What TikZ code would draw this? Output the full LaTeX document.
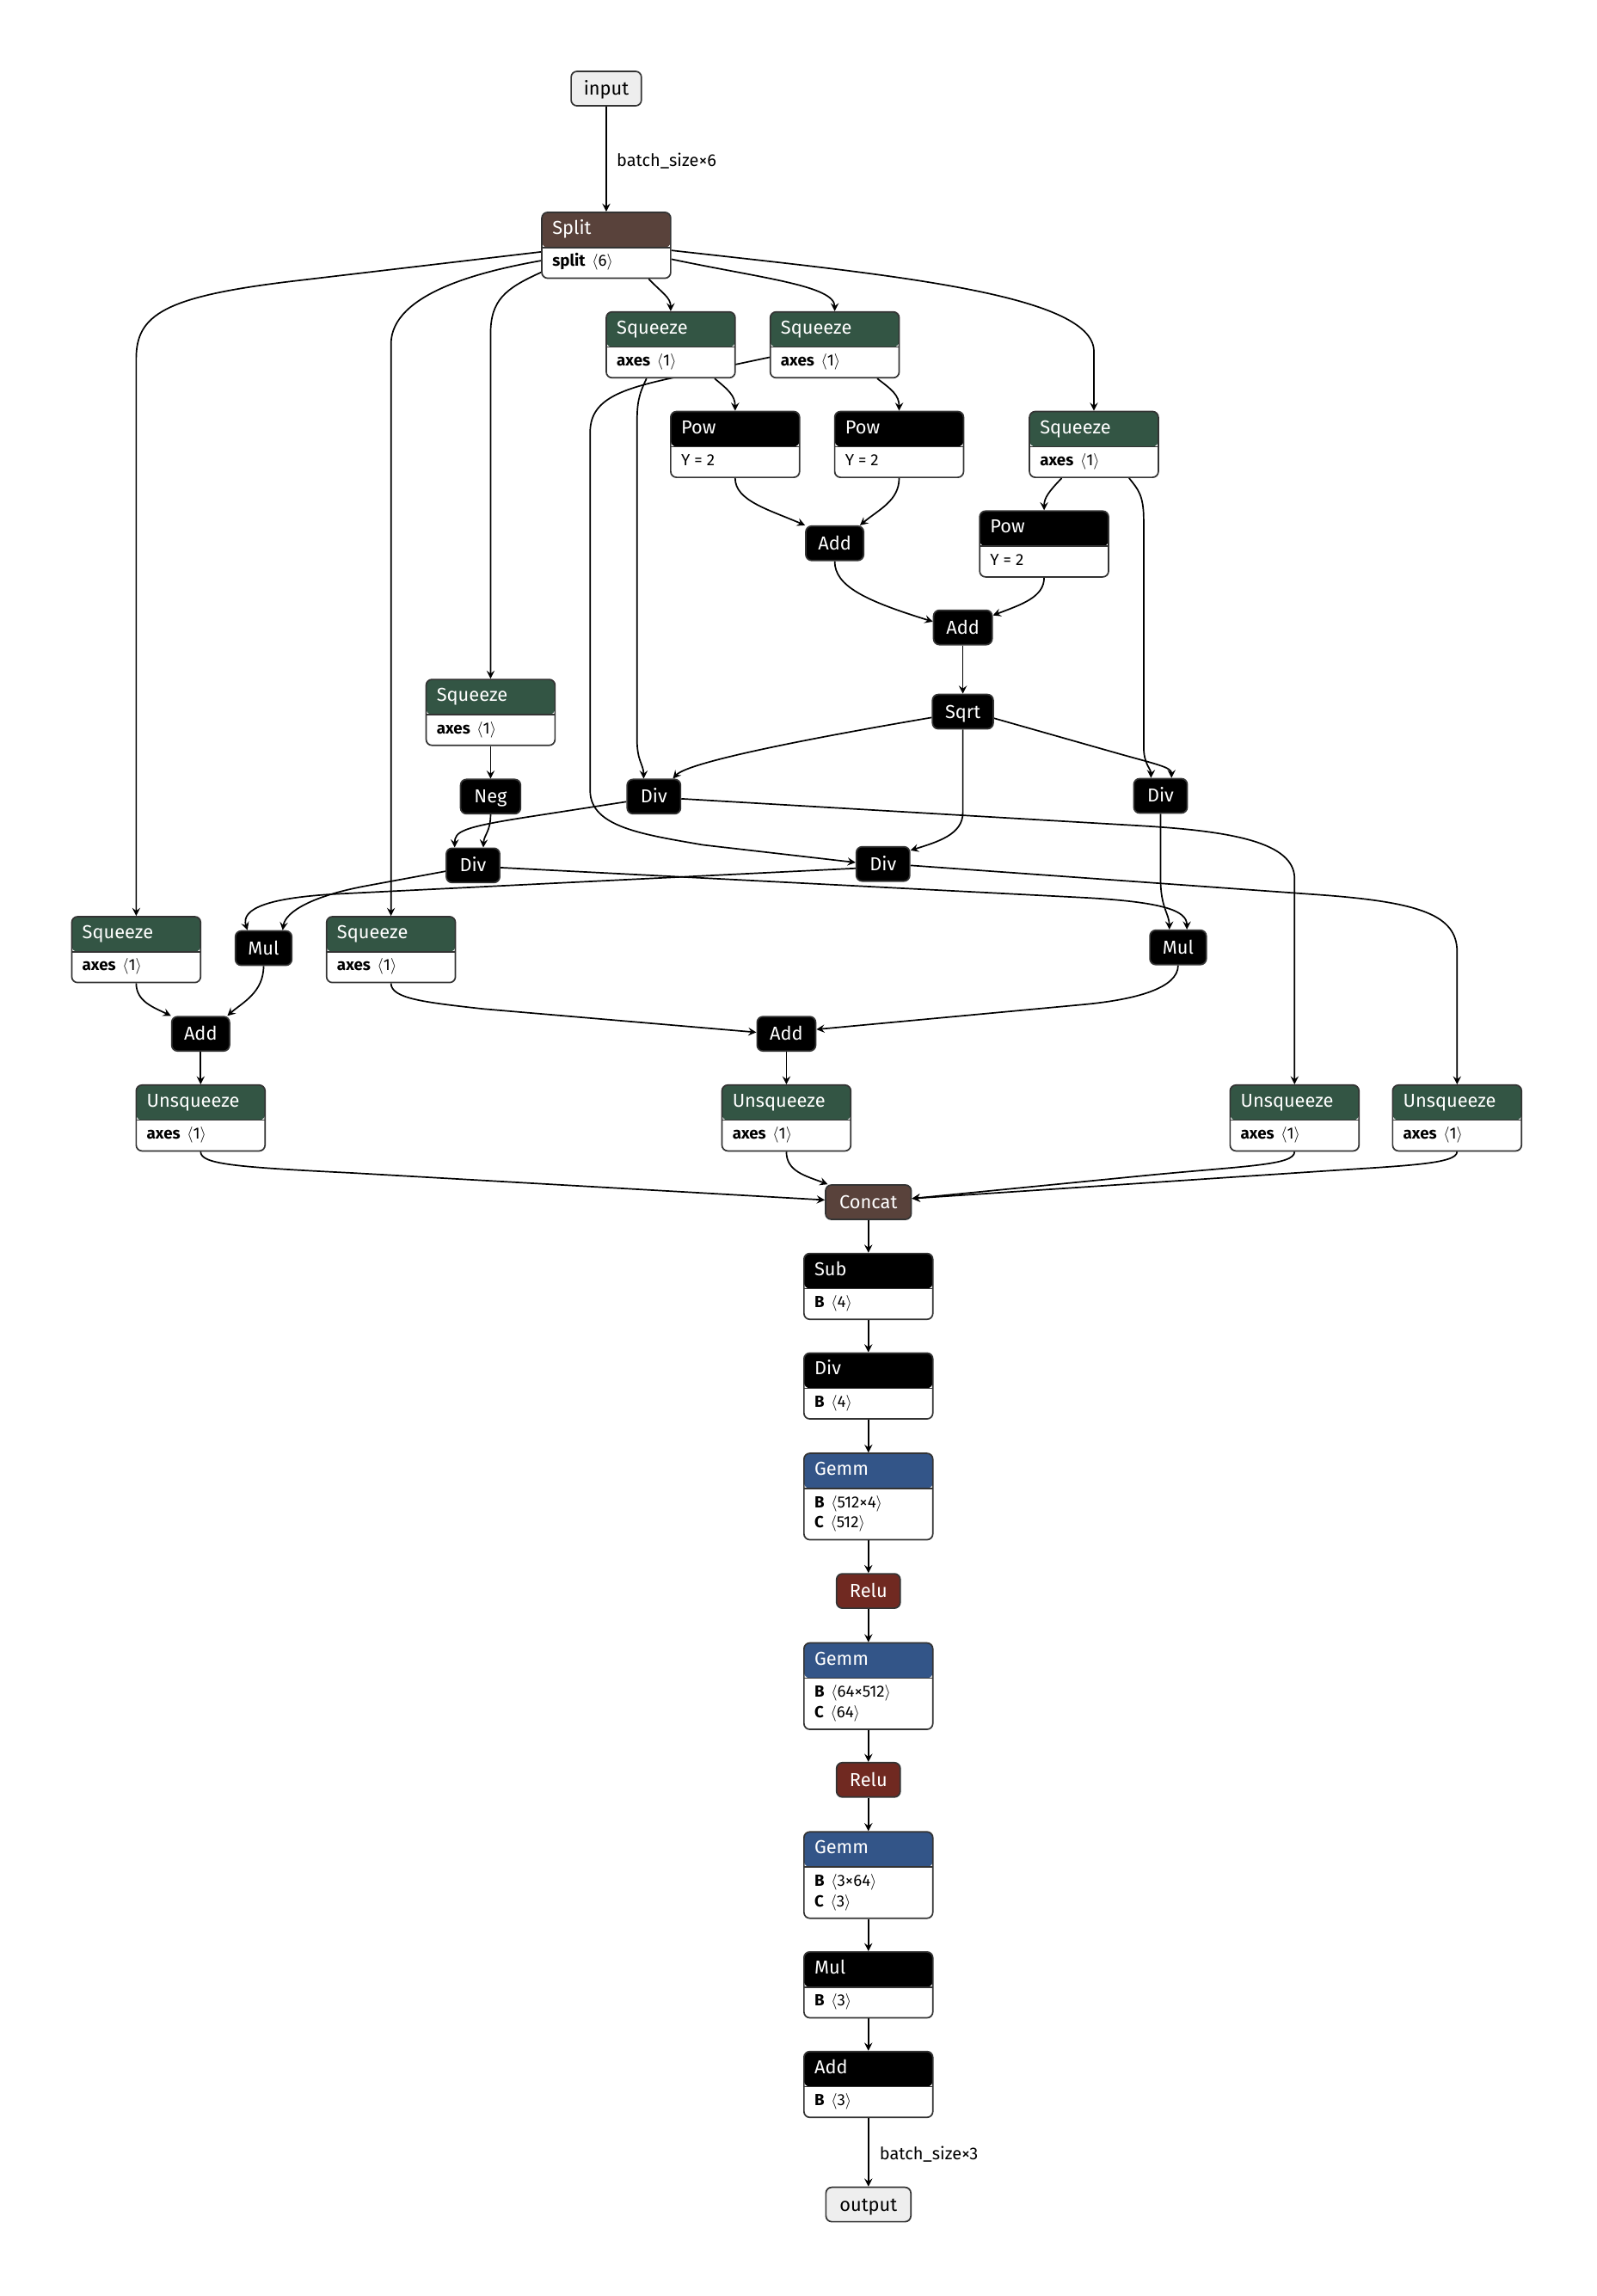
\documentclass[tikz,border=0pt]{standalone}
\usepackage{fontspec}
\setmainfont{Fira Sans}
\usetikzlibrary{arrows.meta}

\definecolor{framecol}{HTML}{333333}
\definecolor{tensorcol}{RGB}{89,66,59}
\definecolor{transformcol}{RGB}{51,85,68}
\definecolor{layercol}{RGB}{51,85,136}
\definecolor{activcol}{RGB}{112,41,33}
\definecolor{iocol}{HTML}{EEEEEE}

\pgfdeclarelayer{paper}
\pgfdeclarelayer{edges}
\pgfsetlayers{paper,edges,main}

\newcommand\hdrfont{\fontsize{12.8}{15}\selectfont}
\newcommand\atrfont{\fontsize{11}{14}\selectfont}
\newcommand\lblfont{\fontsize{11.7}{14}\selectfont}
% attribute: bold name, then the value in angle brackets
\newcommand\kv[2]{\textbf{#1}\hspace{4.5pt}$\langle$#2$\rangle$}

\tikzset{
  opframe/.style={draw=framecol, line width=1pt, rounded corners=4pt, fill=white,
                  minimum width=88pt, inner sep=0pt},
  smallop/.style={draw=framecol, line width=1pt, rounded corners=4pt, fill=black, text=white,
                  minimum height=23.5pt, inner sep=0pt, text height=8.8pt, text depth=0pt,
                  font=\hdrfont},
  ioop/.style={smallop, fill=iocol, text=black},
  hdrtext/.style={anchor=base west, inner sep=0pt, text=white, font=\hdrfont},
  atrtext/.style={anchor=base west, inner sep=0pt, text=black, font=\atrfont},
  edgelabel/.style={anchor=base west, inner sep=0pt, text=black, font=\lblfont},
  flow/.style={draw=black, line width=1pt, -{Stealth[length=5.5pt, width=5.5pt, inset=2pt]}},
}

% operator box with coloured header and one attribute line
% #1 name, #2 centre x, #3 top y, #4 height, #5 header colour, #6 title, #7 attribute
\newcommand\opnode[7]{%
  \node[opframe, minimum height=#4pt,
        path picture={
          \fill[#5] (path picture bounding box.north west) rectangle
                    ([yshift=-24pt]path picture bounding box.north east);
          \draw[framecol, line width=0.9pt]
                    ([yshift=-24pt]path picture bounding box.north west) --
                    ([yshift=-24pt]path picture bounding box.north east);}]
    (#1) at (#2,{#3+#4/2}) {};
  \node[hdrtext] (#1-t) at ([xshift=7.5pt,yshift=-15.5pt]#1.north west) {#6};
  \node[atrtext] (#1-a) at ([xshift=7.5pt,yshift=-37.5pt]#1.north west) {#7};
}
% second attribute line
\newcommand\opattr[2]{%
  \node[atrtext] (#1-b) at ([xshift=7.5pt,yshift=-51.5pt]#1.north west) {#2};
}

\begin{document}
\begin{tikzpicture}[x=1pt, y=-1pt]
\begin{pgfonlayer}{paper}
  \fill[white] (0,0) rectangle (1090,1568);
\end{pgfonlayer}
\useasboundingbox (0,0) rectangle (1090,1568);

% ---------- operators ----------
\node[ioop, minimum width=48pt] (input) at (414,60.5) {input};

\opnode{split}{414}{145}{45}{tensorcol}{Split}{\kv{split}{6}}
\opnode{sqa}{458}{213}{45}{transformcol}{Squeeze}{\kv{axes}{1}}
\opnode{sqb}{570}{213}{45}{transformcol}{Squeeze}{\kv{axes}{1}}
\opnode{pow1}{502}{281}{45}{black}{Pow}{Y = 2}
\opnode{pow2}{614}{281}{45}{black}{Pow}{Y = 2}
\opnode{sqc}{747}{281}{45}{transformcol}{Squeeze}{\kv{axes}{1}}
\opnode{pow3}{713}{349}{45}{black}{Pow}{Y = 2}
\opnode{sqd}{335}{464}{45}{transformcol}{Squeeze}{\kv{axes}{1}}
\opnode{sqe}{93}{626}{45}{transformcol}{Squeeze}{\kv{axes}{1}}
\opnode{sqf}{267}{626}{45}{transformcol}{Squeeze}{\kv{axes}{1}}
\opnode{unsq1}{137}{741}{45}{transformcol}{Unsqueeze}{\kv{axes}{1}}
\opnode{unsq2}{537}{741}{45}{transformcol}{Unsqueeze}{\kv{axes}{1}}
\opnode{unsq3}{884}{741}{45}{transformcol}{Unsqueeze}{\kv{axes}{1}}
\opnode{unsq4}{995}{741}{45}{transformcol}{Unsqueeze}{\kv{axes}{1}}
\opnode{sub}{593}{856}{45}{black}{Sub}{\kv{B}{4}}
\opnode{div5}{593}{924}{45}{black}{Div}{\kv{B}{4}}
\opnode{gemm1}{593}{992.5}{59}{layercol}{Gemm}{\kv{B}{512×4}}
\opattr{gemm1}{\kv{C}{512}}
\opnode{gemm2}{593}{1122}{59}{layercol}{Gemm}{\kv{B}{64×512}}
\opattr{gemm2}{\kv{C}{64}}
\opnode{gemm3}{593}{1251}{59}{layercol}{Gemm}{\kv{B}{3×64}}
\opattr{gemm3}{\kv{C}{3}}
\opnode{mul3}{593}{1333}{45}{black}{Mul}{\kv{B}{3}}
\opnode{add5}{593}{1401}{45}{black}{Add}{\kv{B}{3}}

\node[smallop, minimum width=39.5pt] (add1) at (570,371) {Add};
\node[smallop, minimum width=40pt] (add2) at (657.5,428.5) {Add};
\node[smallop, minimum width=41.5pt] (sqrt) at (657.5,486) {Sqrt};
\node[smallop, minimum width=41pt] (neg) at (335,544) {Neg};
\node[smallop, minimum width=36.5pt] (div1) at (446.5,544) {Div};
\node[smallop, minimum width=36.5pt] (div2) at (792.5,543.5) {Div};
\node[smallop, minimum width=36.5pt] (div3) at (323,591) {Div};
\node[smallop, minimum width=36.5pt] (div4) at (603,590) {Div};
\node[smallop, minimum width=38.5pt] (mul1) at (180,647.5) {Mul};
\node[smallop, minimum width=38.5pt] (mul2) at (804.5,647) {Mul};
\node[smallop, minimum width=39.5pt] (add3) at (137,706) {Add};
\node[smallop, minimum width=40pt] (add4) at (537,706) {Add};
\node[smallop, fill=tensorcol, minimum width=58.5pt] (concat) at (593,821) {Concat};
\node[smallop, fill=activcol, minimum width=43.5pt] (relu1) at (593,1086.5) {Relu};
\node[smallop, fill=activcol, minimum width=43.5pt] (relu2) at (593,1215.5) {Relu};
\node[ioop, minimum width=58pt] (output) at (593,1505.5) {output};

\node[edgelabel] (lblin) at (421,113.5) {batch\_size×6};
\node[edgelabel] (lblout) at (600.5,1475) {batch\_size×3};

% ---------- connectors ----------
\begin{pgfonlayer}{edges}
\draw[flow] (input.south) -- (split.north);

% Split fans out to the six squeezes
\draw[flow] ([yshift=-4.5pt]split.west) -- (200,192) .. controls (112,202.5) and (93,215) .. (93,245) -- (sqe.north);
\draw[flow] ([yshift=-10.5pt]split.west) .. controls (330,185) and (267,200) .. (267,235) -- (sqf.north);
\draw[flow] ([yshift=-18.5pt]split.west) .. controls (345,197) and (335,205) .. (335,228) -- (sqd.north);
\draw[flow] ([xshift=29pt]split.south) .. controls (452,200) and (458,203) .. (sqa.north);
\draw[flow] ([yshift=-9.5pt]split.east) .. controls (520,190) and (570,195) .. (sqb.north);
\draw[flow] ([yshift=-3.5pt]split.east) .. controls (600,187) and (747,200) .. (747,240) -- (sqc.north);

% squares and norm
\draw[flow] ([xshift=30pt]sqa.south) .. controls (497,266) and (502,270) .. (pow1.north);
\draw[flow] ([xshift=29pt]sqb.south) .. controls (609,266) and (614,270) .. (pow2.north);
\draw[flow] ([xshift=-22pt]sqc.south) .. controls (716,336) and (713,340) .. (pow3.north);
\draw[flow] (pow1.south) .. controls (502,342) and (525,348) .. (add1.north west);
\draw[flow] (pow2.south) .. controls (614,342) and (600,348) .. ([xshift=-3pt]add1.north east);
\draw[flow] (add1.south) .. controls (570,400) and (590,410) .. ([yshift=4pt]add2.west);
\draw[flow] (pow3.south) .. controls (713,408) and (697,413) .. ([yshift=-4pt]add2.north east);
\draw[flow] (add2.south) -- (sqrt.north);

% normalised components
\draw[flow] ([xshift=-16.5pt]sqa.south) .. controls (436,270) and (435,275) .. (435,290) -- (435,505) .. controls (435,520) and (439.5,522) .. ([xshift=-7pt]div1.north);
\draw[flow] ([yshift=-8.5pt]sqb.west) -- (470,255.7) .. controls (430,264.3) and (403,270) .. (403,295) -- (403,540) .. controls (403,565) and (440,570) .. (480,577) -- ([yshift=1pt]div4.west);
\draw[flow] ([xshift=24pt]sqc.south) .. controls (777,334) and (781,338) .. (781,355) -- (781,510) .. controls (781,522) and (786,525) .. ([xshift=-6.5pt]div2.north);
\draw[flow] ([yshift=-4pt]sqrt.west) .. controls (560,503) and (470,520) .. ([xshift=13pt]div1.north);
\draw[flow] ([yshift=-4.5pt]sqrt.east) -- (765,515) .. controls (790,522) and (800,524) .. ([xshift=7.5pt]div2.north);
\draw[flow] (sqrt.south) -- (657.5,555) .. controls (657.5,570) and (640,575) .. ([yshift=-3pt]div4.north east);

% negation branch
\draw[flow] (sqd.south) -- (neg.north);
\draw[flow] (neg.south) .. controls (335,568) and (330.5,570) .. ([xshift=7pt]div3.north);
\draw[flow] ([yshift=-3.5pt]div1.west) -- (360,558) .. controls (315,565) and (310.5,568) .. ([xshift=-12.5pt]div3.north);

% products
\draw[flow] ([yshift=-4pt]div3.west) -- (250,605) .. controls (215,611.5) and (195,622) .. ([xshift=13pt]mul1.north);
\draw[flow] ([yshift=-3pt]div4.west) -- (230,610.5) .. controls (185,613) and (164,620) .. ([xshift=-11pt]mul1.north);
\draw[flow] ([yshift=-1.5pt]div3.east) -- (740,613) .. controls (795,616) and (810.5,622) .. ([xshift=6pt]mul2.north);
\draw[flow] (div2.south) -- (792.5,600) .. controls (792.5,620) and (798.5,624) .. ([xshift=-6pt]mul2.north);

% sums
\draw[flow] (sqe.south) .. controls (93,684) and (105,688) .. (add3.north west);
\draw[flow] (mul1.south) .. controls (180,678) and (165,685) .. ([xshift=-2pt]add3.north east);
\draw[flow] (sqf.south) .. controls (267,682) and (290,684.5) .. (330,689) -- ([yshift=1pt]add4.west);
\draw[flow] (mul2.south) .. controls (804.5,675) and (775,682.7) .. (740,686) -- ([yshift=3pt]add4.east);

% unsqueezes
\draw[flow] (add3.south) -- (unsq1.north);
\draw[flow] (add4.south) -- (unsq2.north);
\draw[flow] ([yshift=-1.5pt]div1.east) -- (780,564) .. controls (840,567.6) and (884,575) .. (884,600) -- (unsq3.north);
\draw[flow] ([yshift=-1pt]div4.east) -- (900,611) .. controls (970,616) and (995,625) .. (995,650) -- (unsq4.north);

% concat
\draw[flow] (unsq1.south) .. controls (137,795) and (160,797) .. (240,801) -- ([yshift=1.5pt]concat.west);
\draw[flow] (unsq2.south) .. controls (537,800) and (550,803) .. ([xshift=2pt]concat.north west);
\draw[flow] (unsq3.south) .. controls (884,796) and (850,796.1) .. (780,803) -- ([yshift=2.5pt]concat.east);
\draw[flow] (unsq4.south) .. controls (995,795) and (960,796) .. (900,800) -- ([yshift=2.5pt]concat.east);

% main column
\draw[flow] (concat.south) -- (sub.north);
\draw[flow] (sub.south) -- (div5.north);
\draw[flow] (div5.south) -- (gemm1.north);
\draw[flow] (gemm1.south) -- (relu1.north);
\draw[flow] (relu1.south) -- (gemm2.north);
\draw[flow] (gemm2.south) -- (relu2.north);
\draw[flow] (relu2.south) -- (gemm3.north);
\draw[flow] (gemm3.south) -- (mul3.north);
\draw[flow] (mul3.south) -- (add5.north);
\draw[flow] (add5.south) -- (output.north);
\end{pgfonlayer}
\end{tikzpicture}
\end{document}
